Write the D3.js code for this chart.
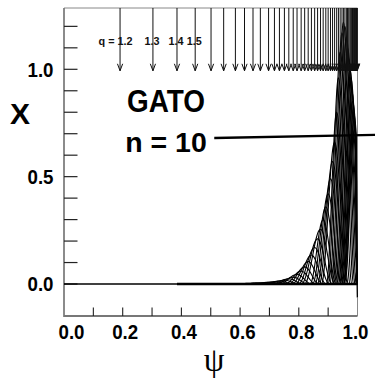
<!DOCTYPE html>
<html><head><meta charset="utf-8">
<script src="https://cdn.jsdelivr.net/npm/d3@7"></script>
<style>body{margin:0;background:#fff}svg{display:block}</style>
</head><body>
<svg id="chart" width="375" height="379"></svg>
<script>
// ---------- data ----------
const xTickValues = [0.1,0.2,0.3,0.4,0.5,0.6,0.7,0.8,0.9];
const xLabelValues = [0.0,0.2,0.4,0.6,0.8,1.0];
const xLabelTexts = ["0.0","0.2","0.4","0.6","0.8","1.0"];
const yTickValues = [0.0,0.1,0.2,0.3,0.4,0.5,0.6,0.7,0.8,0.9,1.0,1.1,1.2];
const yLabelValues = [0.0,0.5,1.0];
const yLabelTexts = ["0.0","0.5","1.0"];
const qLabelTexts = ["q = 1.2","1.3","1.4","1.5"];
// positions (psi) of the rational surfaces q = 1.2, 1.3, 1.4 ... marked by arrows
const rationalPsi = [0.191,0.303,0.385,0.447,0.501,0.544,0.584,0.615,0.644,0.669,0.697,0.717,0.734,0.751,0.766,0.781,0.794,0.808,0.820,0.832,0.843,0.854,0.864,0.874,0.883,0.892,0.900,0.908,0.915,0.922,0.929,0.935,0.941,0.947,0.952,0.957,0.962,0.966,0.970,0.974,0.977,0.980,0.983,0.986,0.988,0.990,0.992,0.994,0.995,0.996,0.997,0.998,0.999];
// poloidal harmonics of X: peak position, peak height, left / right half widths
const harmonicPsi  = [0.644,0.669,0.697,0.717,0.734,0.751,0.766,0.781,0.794,0.808,0.820,0.832,0.843,0.854,0.864,0.874,0.883,0.892,0.900,0.908,0.915,0.922,0.929,0.935,0.941,0.947,0.952,0.957,0.962,0.966,0.970,0.974,0.977,0.980,0.983,0.986,0.988,0.990];
const harmonicPeak = [0.004,0.006,0.008,0.011,0.014,0.018,0.024,0.032,0.045,0.060,0.080,0.105,0.135,0.170,0.210,0.255,0.300,0.360,0.420,0.490,0.570,0.660,0.800,0.960,1.080,1.170,1.220,1.200,1.150,1.100,1.050,1.000,0.960,0.900,0.850,0.800,0.760,0.720];
const harmonicWL   = [0.060,0.060,0.060,0.060,0.060,0.060,0.060,0.060,0.060,0.055,0.055,0.055,0.055,0.055,0.055,0.055,0.045,0.045,0.045,0.045,0.045,0.045,0.035,0.035,0.035,0.035,0.035,0.035,0.035,0.035,0.035,0.035,0.035,0.035,0.035,0.035,0.035,0.035];
const harmonicWR   = [0.050,0.050,0.050,0.050,0.050,0.050,0.050,0.050,0.050,0.050,0.050,0.050,0.050,0.050,0.050,0.050,0.045,0.045,0.045,0.045,0.045,0.045,0.040,0.040,0.040,0.040,0.040,0.040,0.040,0.040,0.040,0.040,0.040,0.040,0.040,0.040,0.040,0.040];
// normalised bump profile (distance from peak in half widths -> relative height)
const bumpT = [0,0.125,0.25,0.375,0.5,0.625,0.75,0.875,1];
const bumpV = [1,0.962,0.854,0.691,0.5,0.309,0.146,0.038,0];
const baselineStart = 0.385;
const edgeCut = 0.997;
const tailPsi = [0.990,0.997,0.9985,0.9995,1.0];
const tailVal = [0.0,0.055,0.02,-0.06,-0.06];
const pointerPsi = [0.512,1.09];
const pointerX = [0.680,0.695];

// ---------- scales ----------
const x = d3.scaleLinear().domain([0,1]).range([64,357.5]);
const y = d3.scaleLinear().domain([-0.149,1.2855]).range([316,8]);
const [yBot, yTop] = y.domain();
const svg = d3.select("#chart");
const FONT = "'Liberation Sans', Arial, sans-serif";

// ---------- frame ----------
const g = svg.append("g");
g.append("line").attr("x1",x(0)).attr("x2",x(1)).attr("y1",y(yTop)).attr("y2",y(yTop)).attr("stroke","#888").attr("stroke-width",1);
g.append("line").attr("x1",x(1)).attr("x2",x(1)).attr("y1",y(yTop)).attr("y2",y(yBot)).attr("stroke","#888").attr("stroke-width",1);
g.append("line").attr("x1",x(0)).attr("x2",x(0)).attr("y1",y(yTop)).attr("y2",y(yBot)+1).attr("stroke","#777").attr("stroke-width",1.7);
g.append("line").attr("x1",x(0)).attr("x2",x(1)).attr("y1",y(yBot)).attr("y2",y(yBot)).attr("stroke","#777").attr("stroke-width",2);

// ticks
g.selectAll(".yt").data(yTickValues).join("line")
  .attr("x1",x(0)).attr("x2",x(0)+13.5).attr("y1",d=>y(d)).attr("y2",d=>y(d))
  .attr("stroke","#222").attr("stroke-width",1.2);
g.selectAll(".xt").data(xTickValues).join("line")
  .attr("x1",d=>x(d)).attr("x2",d=>x(d)).attr("y1",y(yBot)).attr("y2",y(yBot)-8.5)
  .attr("stroke","#222").attr("stroke-width",1.1);

// tick labels
g.selectAll(".yl").data(yLabelValues).join("text")
  .attr("x",53.5).attr("y",d=>y(d)+7.3).attr("text-anchor","end")
  .attr("font-family",FONT).attr("font-weight","bold").attr("font-size",20.5)
  .attr("textLength",26).attr("lengthAdjust","spacingAndGlyphs")
  .text((d,i)=>yLabelTexts[i]);
g.selectAll(".xl").data(xLabelValues).join("text")
  .attr("x",(d,i)=>x(d)+(i===0?7.5:(i===xLabelValues.length-1?-2:2.5)))
  .attr("y",339).attr("text-anchor","middle")
  .attr("font-family",FONT).attr("font-weight","bold").attr("font-size",21)
  .attr("textLength",26).attr("lengthAdjust","spacingAndGlyphs")
  .text((d,i)=>xLabelTexts[i]);

// axis titles
svg.append("text").attr("x",20).attr("y",124).attr("text-anchor","middle")
  .attr("font-family",FONT).attr("font-weight","bold").attr("font-size",30).text("X");
svg.append("text").attr("x",214).attr("y",371).attr("text-anchor","middle")
  .attr("font-family","'Liberation Serif','DejaVu Serif',serif").attr("font-size",33).text("\u03C8");

// ---------- curves ----------
const line = d3.line().x(d=>x(d[0])).y(d=>y(d[1])).curve(d3.curveMonotoneX);
const curves = harmonicPsi.map((c,i)=>{
  const A = harmonicPeak[i], wl = harmonicWL[i], wr = harmonicWR[i];
  const pts = [[baselineStart,0]];
  for (let k = bumpT.length-1; k >= 0; k--) pts.push([c - bumpT[k]*wl, A*bumpV[k]]);
  let cut = false;
  for (let k = 1; k < bumpT.length; k++) {
    const p = c + bumpT[k]*wr;
    if (p > edgeCut) { cut = true; break; }
    pts.push([p, A*bumpV[k]]);
  }
  if (cut) pts.push([0.9985, 0]);
  pts.push([1,0]);
  return pts;
});
const cg = svg.append("g").attr("fill","none").attr("stroke","#000");
cg.append("path").attr("d",line([[0,0],[baselineStart,0]])).attr("stroke-width",1.3);
cg.append("path").attr("d",line([[baselineStart,0],[1,0]])).attr("stroke-width",2.4);
cg.selectAll(".h").data(curves).join("path").attr("d",d=>line(d)).attr("stroke-width",1.1);
cg.append("path").attr("d",d3.line().x(d=>x(d[0])).y(d=>y(d[1]))(tailPsi.map((p,i)=>[p,tailVal[i]]))).attr("stroke-width",1.3);

// ---------- arrows at rational surfaces ----------
const tipVal = 0.993;
const ag = svg.append("g").attr("fill","none").attr("stroke","#111").attr("stroke-width",1);
ag.selectAll(".a").data(rationalPsi).join("path")
  .attr("d",p=>{
    const X = x(p), y0 = y(yTop), y1 = y(tipVal);
    return `M${X},${y0}L${X},${y1}M${X-2.6},${y1-7}L${X},${y1}L${X+2.6},${y1-7}`;
  });

// q labels
svg.selectAll(".ql").data(qLabelTexts).join("text")
  .attr("x",(d,i)=> i===0 ? x(rationalPsi[0])+12.5 : x(rationalPsi[i])-1)
  .attr("y",45).attr("text-anchor",(d,i)=> i===0 ? "end" : "middle")
  .attr("font-family",FONT).attr("font-weight","bold").attr("font-size",11.5)
  .attr("fill","#111")
  .attr("textLength",(d,i)=> i===0 ? 34 : 15).attr("lengthAdjust","spacingAndGlyphs")
  .text(d=>d);

// ---------- annotation ----------
svg.append("text").attr("x",166).attr("y",111.7).attr("text-anchor","middle")
  .attr("font-family",FONT).attr("font-weight","bold").attr("font-size",32)
  .attr("textLength",78).attr("lengthAdjust","spacingAndGlyphs").text("GATO");
svg.append("text").attr("x",166).attr("y",151.7).attr("text-anchor","middle")
  .attr("font-family",FONT).attr("font-weight","bold").attr("font-size",28)
  .attr("textLength",81.5).attr("lengthAdjust","spacingAndGlyphs").text("n = 10");
svg.append("line")
  .attr("x1",x(pointerPsi[0])).attr("y1",y(pointerX[0]))
  .attr("x2",x(pointerPsi[1])).attr("y2",y(pointerX[1]))
  .attr("stroke","#000").attr("stroke-width",2.3);
</script>
</body></html>
